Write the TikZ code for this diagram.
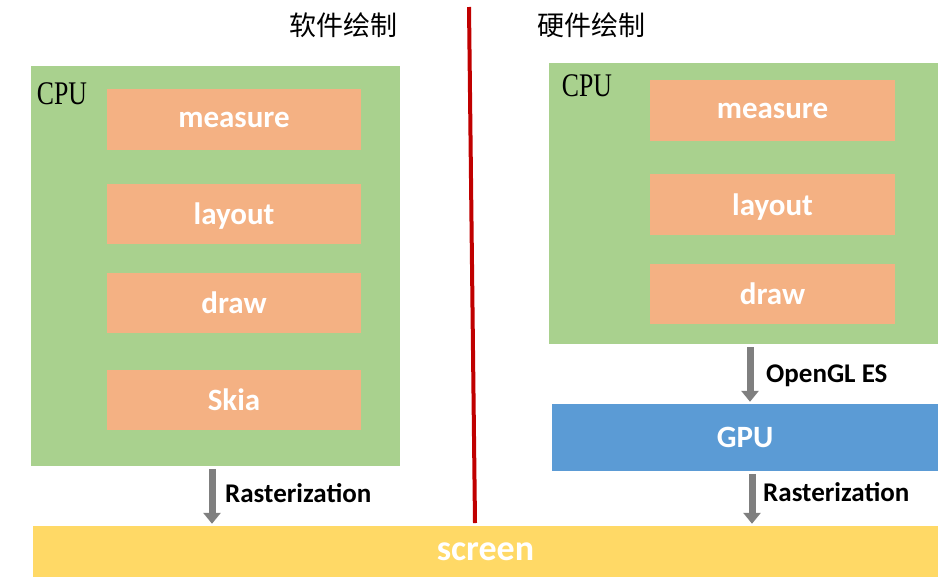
\documentclass[tikz,border=0pt]{standalone}
\usepackage{fontspec}
\usepackage{tikz}
\usetikzlibrary{arrows.meta}
\setsansfont{Carlito}
\newfontfamily\cjk{Noto Sans CJK SC}
\newfontfamily\cpufont{Liberation Serif}
\definecolor{cpugreen}{HTML}{A9D18E}
\definecolor{steporange}{HTML}{F4B183}
\definecolor{gpublue}{HTML}{5B9BD5}
\definecolor{screenyellow}{HTML}{FFD966}
\definecolor{splitred}{HTML}{C00000}
\definecolor{arrowgray}{HTML}{7F7F7F}
\tikzset{
  cpubox/.style={fill=cpugreen, inner sep=0pt},
  stepbox/.style={fill=steporange, inner sep=0pt, text=white, text depth=0pt,
    font=\sffamily\bfseries\fontsize{31}{32}\selectfont},
  flowarrow/.style={draw=arrowgray, line width=7pt,
    -{Triangle[width=17pt,length=11pt]}, shorten <=3pt, shorten >=2pt},
  flowlabel/.style={anchor=west, inner sep=0pt,
    font=\sffamily\bfseries\fontsize{27}{28}\selectfont},
  cpulabel/.style={inner sep=0pt, font=\cpufont\fontsize{33}{34}\selectfont},
  title/.style={inner sep=0pt, font=\cjk\fontsize{27}{28}\selectfont}
}

\begin{document}
\begin{tikzpicture}[x=1pt,y=-1pt]
  \useasboundingbox (0,0) rectangle (952,582);
  % titles and the split
  \node [title] (soft) at (343,25) {软件绘制};
  \node [title] (hard) at (591,25) {硬件绘制};
  \draw [splitred, line width=4pt] (469,7) -- (475,523);

  % software side
  \node [cpubox, minimum width=369pt, minimum height=400pt] (cpuL) at (215.5,266) {};
  \node [cpulabel] (cpuLtext) at (62,94) {\scalebox{0.78}[1]{CPU}};
  \node [stepbox, minimum width=254pt, minimum height=61pt] (measureL) at (234,119.5) {measure};
  \node [stepbox, minimum width=254pt, minimum height=60pt] (layoutL) at (234,214) {layout};
  \node [stepbox, minimum width=254pt, minimum height=60pt] (drawL) at (234,303) {draw};
  \node [stepbox, minimum width=254pt, minimum height=60pt] (skia) at (234,400) {Skia};

  % hardware side
  \node [cpubox, minimum width=389pt, minimum height=281pt] (cpuR) at (743.5,203.5) {};
  \node [cpulabel] (cpuRtext) at (587,86) {\scalebox{0.78}[1]{CPU}};
  \node [stepbox, minimum width=245pt, minimum height=61pt] (measureR) at (772.5,110.5) {measure};
  \node [stepbox, minimum width=245pt, minimum height=61pt] (layoutR) at (772.5,204.5) {layout};
  \node [stepbox, minimum width=245pt, minimum height=60pt] (drawR) at (772.5,293.5) {draw};
  \node [stepbox, fill=gpublue, minimum width=386pt, minimum height=67pt] (gpu) at (745,437.5) {GPU};

  \node [stepbox, fill=screenyellow, minimum width=905pt, minimum height=51pt,
    font=\sffamily\bfseries\fontsize{36}{37}\selectfont] (screen) at (485.5,551.5) {screen};

  % arrows
  \coordinate (axL) at (212,0);
  \coordinate (axGL) at (750,0);
  \coordinate (axR) at (752,0);
  \draw [flowarrow] (cpuL.south -| axL) -- (screen.north -| axL);
  \draw [flowarrow] (cpuR.south -| axGL) -- (gpu.north -| axGL);
  \draw [flowarrow] (gpu.south -| axR) -- (screen.north -| axR);
  \node [flowlabel] (rasterL) at (225,493) {Rasterization};
  \node [flowlabel] (opengl) at (766,376) {OpenGL ES};
  \node [flowlabel] (rasterR) at (763,492) {Rasterization};
\end{tikzpicture}
\end{document}
